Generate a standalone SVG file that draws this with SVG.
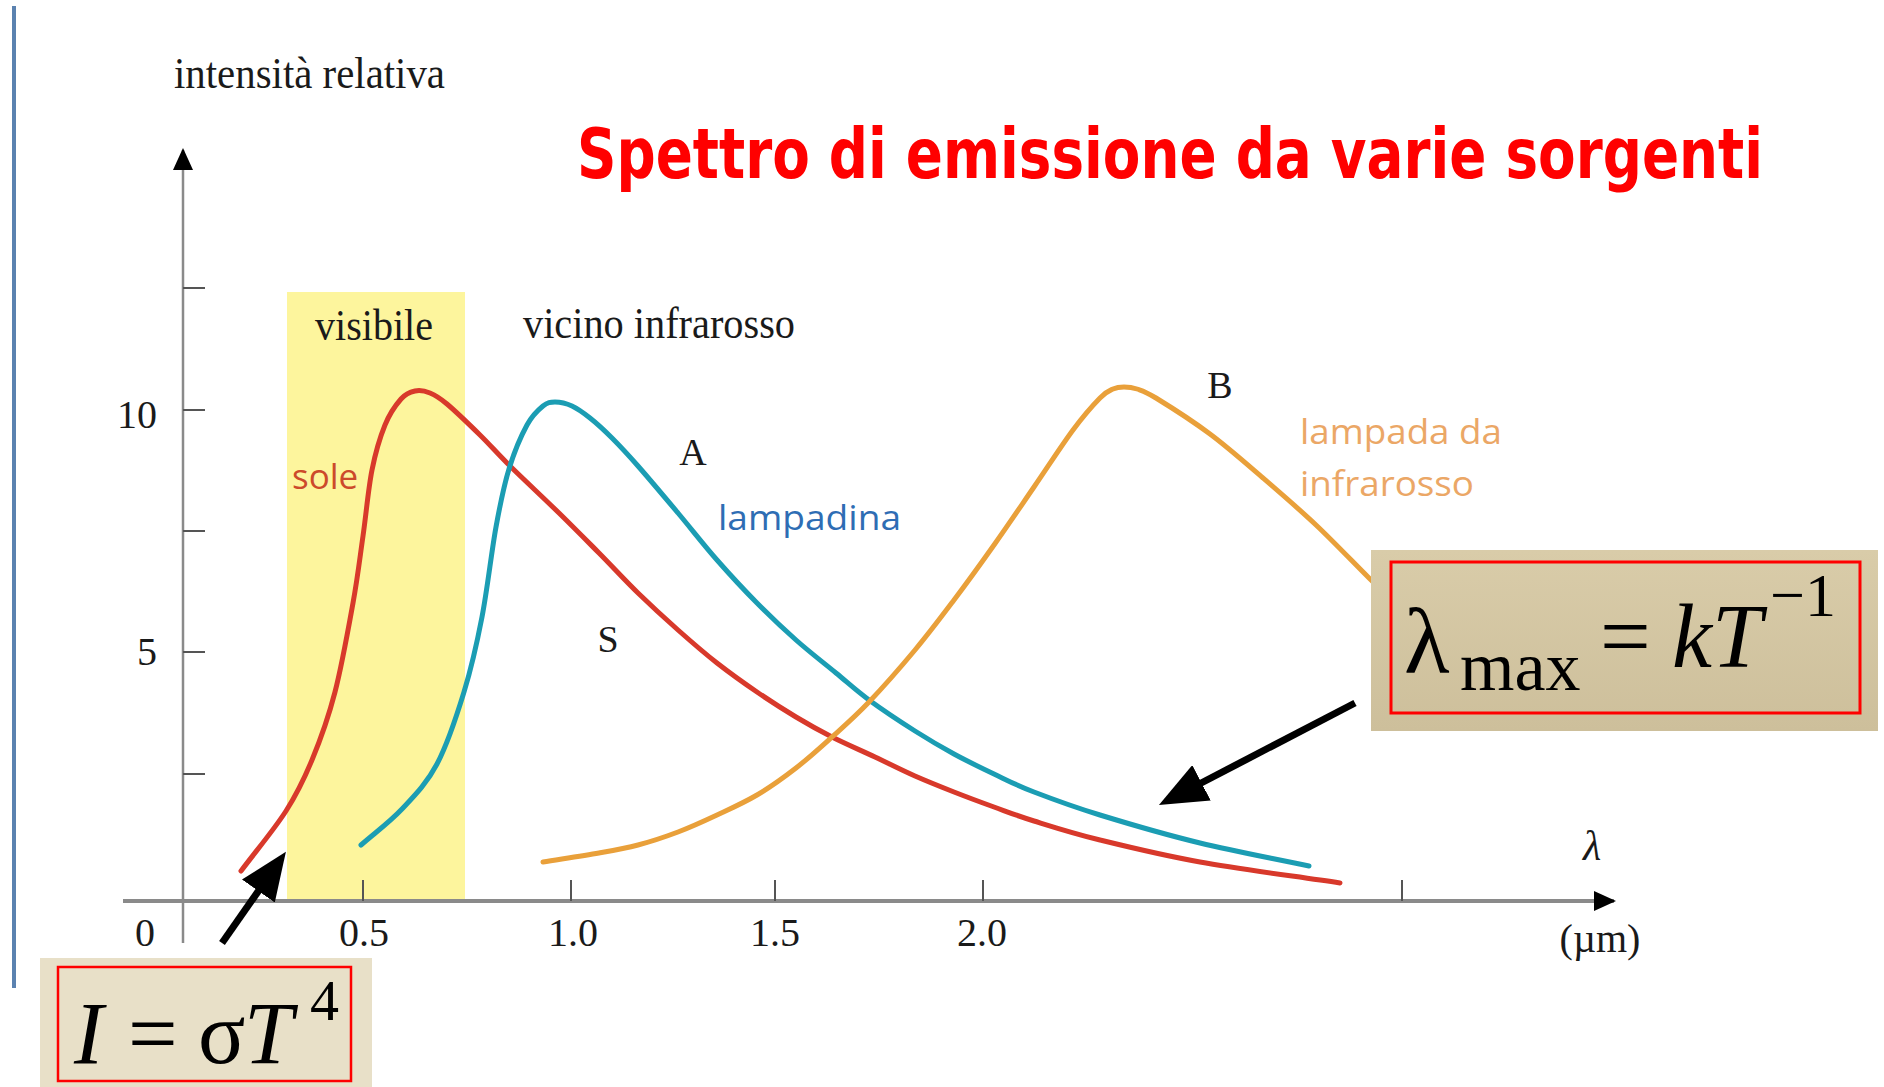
<svg xmlns="http://www.w3.org/2000/svg" width="1884" height="1087" viewBox="0 0 1884 1087">
<style>
.serif{font-family:"Liberation Serif","Times New Roman",serif;fill:#1a1a1a}
.sans{font-family:"Open Sans","Liberation Sans",sans-serif}
.axis{stroke:#8a8a8a;fill:none}
.tick{stroke:#555;stroke-width:2}
.curve{fill:none;stroke-width:5;stroke-linecap:round;stroke-linejoin:round}
.arrow{stroke:#000;stroke-width:7;fill:none}
.formula{font-family:"Liberation Serif","Times New Roman",serif;fill:#000}
</style>
<defs>
<linearGradient id="tan" x1="0" y1="0" x2="0" y2="1">
<stop offset="0" stop-color="#d9cca9"/>
<stop offset="1" stop-color="#cdbf9b"/>
</linearGradient>
<marker id="head" markerUnits="userSpaceOnUse" markerWidth="48" markerHeight="40" viewBox="0 0 48 40" refX="22" refY="20" orient="auto">
<path d="M0,0 L48,20 L0,40 Z" fill="#000"/>
</marker>
<marker id="axhead" markerUnits="userSpaceOnUse" markerWidth="22" markerHeight="20" viewBox="0 0 22 20" refX="20" refY="10" orient="auto">
<path d="M0,0 L22,10 L0,20 Z" fill="#000"/>
</marker>
</defs>
<rect width="1884" height="1087" fill="#fff"/>
<line x1="14" y1="6" x2="14" y2="988" stroke="#5b82b0" stroke-width="4"/>

<g id="title">
<text transform="translate(577,178) scale(1,1.3)" font-family="DejaVu Sans,sans-serif" font-weight="bold" font-size="54" fill="#ff0000" textLength="1186" lengthAdjust="spacingAndGlyphs">Spettro di emissione da varie sorgenti</text>
</g>

<g id="visible-band">
<rect x="287" y="292" width="178" height="609" fill="#fdf59d"/>
<text class="serif" x="315" y="340" font-size="44" textLength="118" lengthAdjust="spacingAndGlyphs">visibile</text>
</g>
<g id="near-ir-label">
<text class="serif" x="523" y="338" font-size="44" textLength="272" lengthAdjust="spacingAndGlyphs">vicino infrarosso</text>
</g>

<g id="axes">
<line class="axis" x1="183" y1="943" x2="183" y2="150" stroke-width="2.5" marker-end="url(#axhead)"/>
<line class="axis" x1="123" y1="901" x2="1614" y2="901" stroke-width="4" marker-end="url(#axhead)"/>
<line class="tick" x1="183" y1="288" x2="205" y2="288"/>
<line class="tick" x1="183" y1="410" x2="205" y2="410"/>
<line class="tick" x1="183" y1="531" x2="205" y2="531"/>
<line class="tick" x1="183" y1="652" x2="205" y2="652"/>
<line class="tick" x1="183" y1="774" x2="205" y2="774"/>
<line class="tick" x1="363" y1="880" x2="363" y2="901"/>
<line class="tick" x1="571" y1="880" x2="571" y2="901"/>
<line class="tick" x1="775" y1="880" x2="775" y2="901"/>
<line class="tick" x1="983" y1="880" x2="983" y2="901"/>
<line class="tick" x1="1402" y1="880" x2="1402" y2="901"/>
<text class="serif" x="174" y="88" font-size="44" textLength="271" lengthAdjust="spacingAndGlyphs">intensità relativa</text>
<text class="serif" x="157" y="428" font-size="40" text-anchor="end">10</text>
<text class="serif" x="157" y="665" font-size="40" text-anchor="end">5</text>
<text class="serif" x="145" y="946" font-size="40" text-anchor="middle">0</text>
<text class="serif" x="364" y="946" font-size="40" text-anchor="middle">0.5</text>
<text class="serif" x="573" y="946" font-size="40" text-anchor="middle">1.0</text>
<text class="serif" x="775" y="946" font-size="40" text-anchor="middle">1.5</text>
<text class="serif" x="982" y="946" font-size="40" text-anchor="middle">2.0</text>
<text class="serif" x="1592" y="860" font-size="42" font-style="italic" text-anchor="middle">λ</text>
<text class="serif" x="1600" y="952" font-size="40" text-anchor="middle">(µm)</text>
</g>

<g id="curve-sole">
<path class="curve" stroke="#d8392b" d="M241,871 C256,851 274.2,829.5 286,811 S303.8,779.8 312,760 S328.2,718.2 335,692 S348.3,629 353,603 S359.8,558.2 363,536 S368.3,488.5 372,470 S380.2,436.8 385,425 S396,404.7 401,399 S410.2,392 415,391 S424.7,390.8 430,393 S438.7,397 447,404 S469.5,424.7 480,435 S496.8,453 510,466 S544.2,498.5 559,513 S585.8,539.7 599,553 S624.8,580.2 638,593 S664.8,618.3 678,630 S703.8,652.7 717,663 S743.8,683 757,692 S783.5,709.5 796,717 S818.8,730.3 832,737 S861.2,750.5 875,757 S901.8,770.2 915,776 S940.8,786.8 954,792 S980.7,802.2 994,807 S1016.3,815.5 1034,821 S1072.3,833.2 1100,840 S1160,854.8 1200,862 S1293.3,876 1340,883"/>
<text x="292" y="489" font-family="Open Sans,Liberation Sans,sans-serif" font-size="35" fill="#cc4a2b">sole</text>
<text class="serif" x="608" y="652" font-size="38" text-anchor="middle">S</text>
</g>

<g id="curve-lampadina">
<path class="curve" stroke="#1b9db3" d="M361,845 C374.7,833 389.3,822.5 402,809 S426.7,783.5 437,764 S456.5,716.5 464,692 S476.7,644.5 482,617 S491.5,551.7 496,527 S503.8,486 509,469 S521.3,435.5 527,425 S538.3,409.8 543,406 S550.2,402 555,402 S566.2,403.3 572,406 S583.3,412.7 590,418 S604,430 612,438 S627,453.5 638,466 S664.8,497.3 678,513 S703.8,545 717,560 S743.8,589.7 757,603 S782.8,628.3 796,640 S823.8,663 836,673 S855.8,690.3 869,700 S900.8,722 915,731 S940.8,746.8 954,754 S980.7,767.7 994,774 S1016.3,785.2 1034,792 S1072.3,806.5 1100,815 S1165.2,834.5 1200,843 S1272.7,858.3 1309,866"/>
<text class="serif" x="693" y="465" font-size="38" text-anchor="middle">A</text>
<text x="718" y="530" font-family="Open Sans,Liberation Sans,sans-serif" font-size="35" fill="#2e6db4" textLength="183" lengthAdjust="spacingAndGlyphs">lampadina</text>
</g>

<g id="curve-infrarosso">
<path class="curve" stroke="#e9a03a" d="M543,862 C561.7,859 583.2,855.8 599,853 S624.8,848.5 638,845 S664.8,837 678,832 S703.8,821.2 717,815 S743.8,802.8 757,795 S783.5,777.7 796,768 S819.8,748 832,737 S855.2,716.5 869,702 S900.8,667 915,650 S940.8,617.5 954,600 S980.7,563.8 994,545 S1020.8,506.2 1034,487 S1062,444.8 1073,430 S1093.3,404.8 1100,398 S1109,390.8 1113,389 S1120,387 1124,387 S1131.7,387.2 1137,389 S1143.8,390.5 1156,398 S1192.2,420.7 1210,434 S1245.3,462.8 1263,478 S1298.3,508.3 1316,525 S1355.8,565 1369,578 S1386.3,594.7 1395,603"/>
<text class="serif" x="1220" y="398" font-size="38" text-anchor="middle">B</text>
<text x="1300" y="444" font-family="Open Sans,Liberation Sans,sans-serif" font-size="35" fill="#eba766" textLength="202" lengthAdjust="spacingAndGlyphs">lampada da</text>
<text x="1300" y="496" font-family="Open Sans,Liberation Sans,sans-serif" font-size="35" fill="#eba766" textLength="174" lengthAdjust="spacingAndGlyphs">infrarosso</text>
</g>

<g id="wien-box">
<rect x="1371" y="550" width="507" height="181" fill="url(#tan)"/>
<rect x="1391" y="562" width="469" height="151" fill="none" stroke="#ff0000" stroke-width="3"/>
<text class="formula" font-size="94" x="1404" y="673">λ</text>
<text class="formula" font-size="70" x="1460" y="690">max</text>
<text class="formula" font-size="90" x="1600" y="667">=</text>
<text class="formula" font-size="90" x="1672" y="667" font-style="italic">kT</text>
<text class="formula" font-size="62" x="1770" y="616">−1</text>
</g>

<g id="stefan-box">
<rect x="40" y="958" width="332" height="129" fill="#e8e0c8"/>
<rect x="58" y="967" width="293" height="114" fill="none" stroke="#ff0000" stroke-width="2.5"/>
<text class="formula" font-size="88" x="74" y="1063" font-style="italic">I</text>
<text class="formula" font-size="88" x="128" y="1063">=</text>
<text class="formula" font-size="88" x="198" y="1063">σ</text>
<text class="formula" font-size="88" x="244" y="1063" font-style="italic">T</text>
<text class="formula" font-size="58" x="310" y="1020">4</text>
</g>

<g id="connectors">
<line class="arrow" x1="222" y1="943" x2="271" y2="873" marker-end="url(#head)"/>
<line class="arrow" x1="1355" y1="703" x2="1182" y2="793" marker-end="url(#head)"/>
</g>
</svg>
